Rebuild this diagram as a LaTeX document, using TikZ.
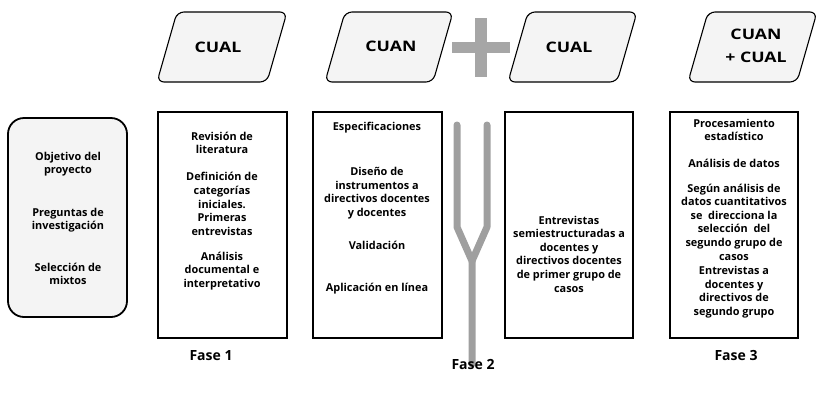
\documentclass[tikz,border=0pt]{standalone}
\usepackage{fontspec}
\setmainfont{Open Sans}
\newfontfamily\tagfont[FakeStretch=1.22]{Open Sans}
\begin{document}
\begin{tikzpicture}[x=1pt,y=-1pt,
  every node/.style={font=\bfseries\fontsize{10.9}{13.6}\selectfont, align=center, inner sep=0pt},
  para/.style={draw=black, line width=1.1pt, fill=gray!9, rounded corners=7pt},
  phase/.style={draw=black, line width=2.3pt, fill=white},
  tag/.style={font=\tagfont\bfseries\fontsize{14.5}{23}\selectfont},
  fase/.style={font=\bfseries\fontsize{14}{16}\selectfont},
  fork/.style={draw=gray!75, line width=7pt, line cap=round, line join=round}]
\useasboundingbox (0,0) rectangle (821,394);
% parallelograms
\draw[para] (157,82) -- (177,12) -- (287,12) -- (267,82) -- cycle;
\draw[para] (325,82) -- (345,12) -- (453,12) -- (433,82) -- cycle;
\draw[para] (508,82) -- (528,12) -- (637,12) -- (617,82) -- cycle;
\draw[para] (688,82) -- (708,12) -- (817,12) -- (797,82) -- cycle;
\node[tag] (t1) at (218,47) {CUAL};
\node[tag] (t2) at (391,46) {CUAN};
\node[tag] (t3) at (569,47) {CUAL};
\node[tag] (t4) at (756,46) {CUAN\\+ CUAL};
% plus
\fill[gray!70] (475,18) rectangle (487,77);
\fill[gray!70] (452,42) rectangle (510,53);
% left box
\draw[draw=black, line width=1.8pt, fill=gray!9, rounded corners=16pt] (8,118) rectangle (127,317);
\node (l1) at (68,164) {Objetivo del\\proyecto};
\node (l2) at (68,220) {Preguntas de\\investigación};
\node (l3) at (68,274) {Selección de\\mixtos};
% phase boxes
\draw[phase] (158,112) rectangle (287,338);
\draw[phase] (313,112) rectangle (442,338);
\draw[phase] (505,112) rectangle (633,338);
\draw[phase] (670,112) rectangle (798,338);
% box1
\node (a1) at (222,143) {Revisión de\\literatura};
\node (a2) at (222,204) {Definición de\\categorías\\iniciales.\\Primeras\\entrevistas};
\node (a3) at (222,271) {Análisis\\documental e\\interpretativo};
% box2
\node (b1) at (377,128) {Especificaciones};
\node (b2) at (377,193) {Diseño de\\instrumentos a\\directivos docentes\\y docentes};
\node (b3) at (377,245) {Validación};
\node (b4) at (377,289) {Aplicación en línea};
% box3
\node (c1) at (569,254) {Entrevistas\\semiestructuradas a\\docentes y\\directivos docentes\\de primer grupo de\\casos};
% box4
\node (d1) at (734,130) {Procesamiento\\estadístico};
\node (d2) at (734,163) {Análisis de datos};
\node (d3) at (734,222) {Según análisis de\\datos cuantitativos\\se\ \ direcciona la\\selección\ \ del\\segundo grupo de\\casos};
\node (d4) at (734,292) {Entrevistas a\\docentes y\\directivos de\\segundo grupo};
% fork
\draw[fork] (457,125) -- (457,227) -- (472,261) -- (472,364);
\draw[fork] (487,125) -- (487,227) -- (472,261);
% fase labels
\node[fase] (f1) at (211,356) {Fase 1};
\node[fase] (f2) at (473,364) {Fase 2};
\node[fase] (f3) at (736,355) {Fase 3};
\end{tikzpicture}
\end{document}
